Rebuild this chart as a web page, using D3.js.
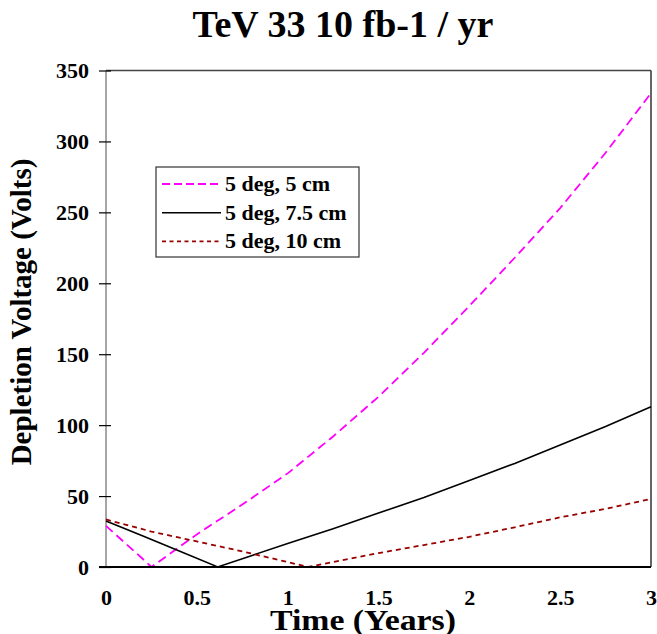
<!DOCTYPE html>
<html>
<head>
<meta charset="utf-8">
<script src="https://cdn.jsdelivr.net/npm/d3@7"></script>
<style>
  body { margin: 0; background: #fff; }
  text { font-family: "Liberation Serif", "Times New Roman", serif; font-weight: bold; fill: #000; }
</style>
</head>
<body>
<div id="chart"></div>
<script>
// series values (time in years, depletion voltage in volts)
var times5 = [0, 0.1, 0.2, 0.25, 0.5, 0.75, 1.0, 1.25, 1.5, 1.75, 2.0, 2.25, 2.5, 2.75, 3.0];
var volts5 = [29, 17.5, 6, 0, 23, 44, 66, 92, 120, 151, 184, 218, 253, 292, 334];

var times75 = [0, 0.2, 0.4, 0.615, 0.8, 1.0, 1.25, 1.5, 1.75, 2.0, 2.25, 2.5, 2.75, 3.0];
var volts75 = [32.5, 22, 11.5, 0, 8, 16.5, 27, 38, 49, 61, 73, 86, 99, 113];

var times10 = [0, 0.25, 0.5, 0.75, 1.0, 1.113, 1.25, 1.5, 1.75, 2.0, 2.25, 2.5, 2.75, 3.0];
var volts10 = [33.5, 25, 18, 11, 3.5, 0, 3.5, 9.8, 15.5, 21.3, 28, 35, 41, 48];

var seriesNames = ["5 deg, 5 cm", "5 deg, 7.5 cm", "5 deg, 10 cm"];
var xTicks = [0, 0.5, 1, 1.5, 2, 2.5, 3];
var yTicks = [0, 50, 100, 150, 200, 250, 300, 350];

var svgWidth = 657;
var svgHeight = 634;
var margin = { top: 70.5, right: 6, bottom: 67, left: 106 };
var width = svgWidth - margin.left - margin.right;
var height = svgHeight - margin.top - margin.bottom;

var svg = d3.select("#chart")
  .append("svg")
  .attr("width", svgWidth)
  .attr("height", svgHeight);

var chartGroup = svg.append("g")
  .attr("transform", `translate(${margin.left}, ${margin.top})`);

var xScale = d3.scaleLinear().domain([0, 3]).range([0, width]);
var yScale = d3.scaleLinear().domain([0, 350]).range([height, 0]);

var series = [
  { name: seriesNames[0], t: times5, v: volts5, color: "#ff00ff", dash: "9,5", w: 1.8 },
  { name: seriesNames[1], t: times75, v: volts75, color: "#000000", dash: null, w: 1.6 },
  { name: seriesNames[2], t: times10, v: volts10, color: "#990000", dash: "5,4", w: 1.8 }
];

// plot frame
chartGroup.append("line").attr("x1", 0).attr("x2", width).attr("y1", 0).attr("y2", 0)
  .attr("stroke", "#444").attr("stroke-width", 1.5);
chartGroup.append("line").attr("x1", width).attr("x2", width).attr("y1", 0).attr("y2", height)
  .attr("stroke", "#333").attr("stroke-width", 1.5);
chartGroup.append("line").attr("x1", 0).attr("x2", 0).attr("y1", 0).attr("y2", height)
  .attr("stroke", "#888").attr("stroke-width", 1.5);

var line = d3.line()
  .x(d => xScale(d[0]))
  .y(d => yScale(d[1]));

series.forEach(s => {
  chartGroup.append("path")
    .datum(s.t.map((t, i) => [t, s.v[i]]))
    .attr("d", line)
    .attr("fill", "none")
    .attr("stroke", s.color)
    .attr("stroke-width", s.w)
    .attr("stroke-dasharray", s.dash);
});

// bottom axis line
chartGroup.append("line").attr("x1", -7).attr("x2", width).attr("y1", height).attr("y2", height)
  .attr("stroke", "#000").attr("stroke-width", 2);

// y axis ticks and labels
var leftAxis = d3.axisLeft(yScale).tickValues(yTicks).tickSize(7).tickPadding(10);
var yAxisG = chartGroup.append("g").call(leftAxis);
yAxisG.select(".domain").remove();
yAxisG.selectAll(".tick line").attr("x2", -7).attr("x1", 5).attr("stroke", "#000").attr("stroke-width", 1.2);
yAxisG.selectAll(".tick text")
  .attr("font-size", "22px")
  .attr("font-family", "Liberation Serif, Times New Roman, serif")
  .attr("font-weight", "bold")
  .attr("fill", "#000");

// x axis labels (no tick marks)
var bottomAxis = d3.axisBottom(xScale).tickValues(xTicks).tickSize(0).tickPadding(22)
  .tickFormat(d3.format("~g"));
var xAxisG = chartGroup.append("g")
  .attr("transform", `translate(0, ${height})`)
  .call(bottomAxis);
xAxisG.select(".domain").remove();
xAxisG.selectAll(".tick text")
  .attr("font-size", "22px")
  .attr("font-family", "Liberation Serif, Times New Roman, serif")
  .attr("font-weight", "bold")
  .attr("fill", "#000");

// title
svg.append("text")
  .attr("x", 343)
  .attr("y", 37)
  .attr("text-anchor", "middle")
  .attr("font-size", "38px")
  .text("TeV 33 10 fb-1 / yr");

// axis titles
svg.append("text")
  .attr("x", 363)
  .attr("y", 630)
  .attr("text-anchor", "middle")
  .attr("font-size", "30px")
  .attr("textLength", 186)
  .attr("lengthAdjust", "spacingAndGlyphs")
  .text("Time (Years)");

svg.append("text")
  .attr("transform", "translate(31, 312) rotate(-90)")
  .attr("text-anchor", "middle")
  .attr("font-size", "29px")
  .text("Depletion Voltage (Volts)");

// legend
var legend = svg.append("g").attr("transform", "translate(156, 167)");
legend.append("rect")
  .attr("width", 203).attr("height", 90)
  .attr("fill", "#fff").attr("stroke", "#333").attr("stroke-width", 1.2);

series.forEach((s, i) => {
  var y = 17 + i * 28.7;
  legend.append("line")
    .attr("x1", 6).attr("x2", 65).attr("y1", y).attr("y2", y)
    .attr("stroke", s.color).attr("stroke-width", s.w)
    .attr("stroke-dasharray", i === 0 ? "8,4" : (i === 2 ? "4,3.5" : null));
  legend.append("text")
    .attr("x", 69).attr("y", y + 7)
    .attr("font-size", "22px")
    .text(s.name);
});
</script>
</body>
</html>
